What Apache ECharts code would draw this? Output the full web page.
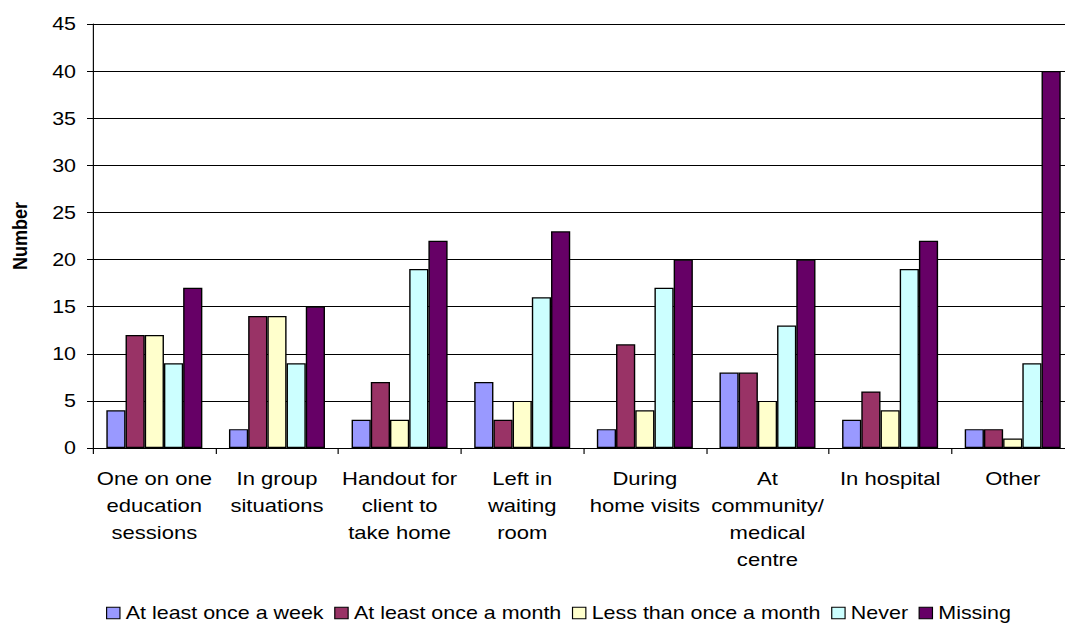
<!DOCTYPE html>
<html>
<head>
<meta charset="utf-8">
<script src="https://cdn.jsdelivr.net/npm/echarts@6/dist/echarts.min.js"></script>
<style>
  html, body { margin: 0; padding: 0; background: #fff; overflow: hidden; width: 1065px; height: 624px; }
  /* the chart is laid out narrow and widened horizontally, giving the broad lettering */
  #chart { width: 930px; height: 624px; transform: scaleX(1.16); transform-origin: 0 0; }
</style>
</head>
<body>
<div id="chart"></div>
<script>
// Where health information resources are used, by frequency
const categories = [
  'One on one\neducation\nsessions',
  'In group\nsituations',
  'Handout for\nclient to\ntake home',
  'Left in\nwaiting\nroom',
  'During\nhome visits',
  'At\ncommunity/\nmedical\ncentre',
  'In hospital',
  'Other'
];
const seriesNames = [
  'At least once a week',
  'At least once a month',
  'Less than once a month',
  'Never',
  'Missing'
];
const weekly      = [4, 2, 3, 7, 2, 8, 3, 2];
const monthly     = [12, 14, 7, 3, 11, 8, 6, 2];
const lessMonthly = [12, 14, 3, 5, 4, 5, 4, 1];
const never       = [9, 9, 19, 16, 17, 13, 19, 9];
const missing     = [17, 15, 22, 23, 20, 20, 22, 40];
const yTicks = { min: 0, max: 45, interval: 5 };

const colors = ['#9999FF', '#993366', '#FFFFCC', '#CCFFFF', '#660066'];
const values = [weekly, monthly, lessMonthly, never, missing];
const font = 'Liberation Sans, Arial, sans-serif';

const chart = echarts.init(document.getElementById('chart'), null, { renderer: 'svg' });
chart.setOption({
  animation: false,
  textStyle: { fontFamily: font },
  grid: { left: 80.2, right: 4.1, top: 24, bottom: 176, containLabel: false },
  legend: {
    left: 91.4,
    top: 603.5,
    padding: 0,
    itemWidth: 11.5,
    itemHeight: 11.5,
    itemGap: 9,
    icon: 'rect',
    textStyle: { fontFamily: font, fontSize: 18.5, color: '#000' },
    data: seriesNames.map((n, i) => ({
      name: n,
      itemStyle: { color: colors[i], borderColor: '#000', borderWidth: 1 }
    }))
  },
  xAxis: {
    type: 'category',
    data: categories,
    axisLine: { lineStyle: { color: '#000', width: 1 } },
    axisTick: { show: true, length: 6, lineStyle: { color: '#000' } },
    axisLabel: {
      color: '#000', fontSize: 19, fontFamily: font, lineHeight: 27,
      margin: 17, interval: 0, align: 'center', verticalAlign: 'top'
    }
  },
  yAxis: {
    type: 'value',
    min: yTicks.min, max: yTicks.max, interval: yTicks.interval,
    name: 'Number',
    nameLocation: 'middle',
    nameGap: 54,
    nameRotate: 90,
    nameTextStyle: { fontFamily: font, fontSize: 18, fontWeight: 'bold', color: '#000' },
    axisLine: { show: true, lineStyle: { color: '#000', width: 1 } },
    axisTick: { show: true, length: 5.2, lineStyle: { color: '#000' } },
    axisLabel: { color: '#000', fontSize: 18.5, fontFamily: font, margin: 14.7 },
    splitLine: { show: true, lineStyle: { color: '#000', width: 1 } }
  },
  series: seriesNames.map((n, i) => ({
    name: n,
    type: 'bar',
    data: values[i],
    barGap: '0%',
    barCategoryGap: '21.7%',
    itemStyle: { color: colors[i], borderColor: '#000', borderWidth: 1.2 }
  }))
});
</script>
</body>
</html>
